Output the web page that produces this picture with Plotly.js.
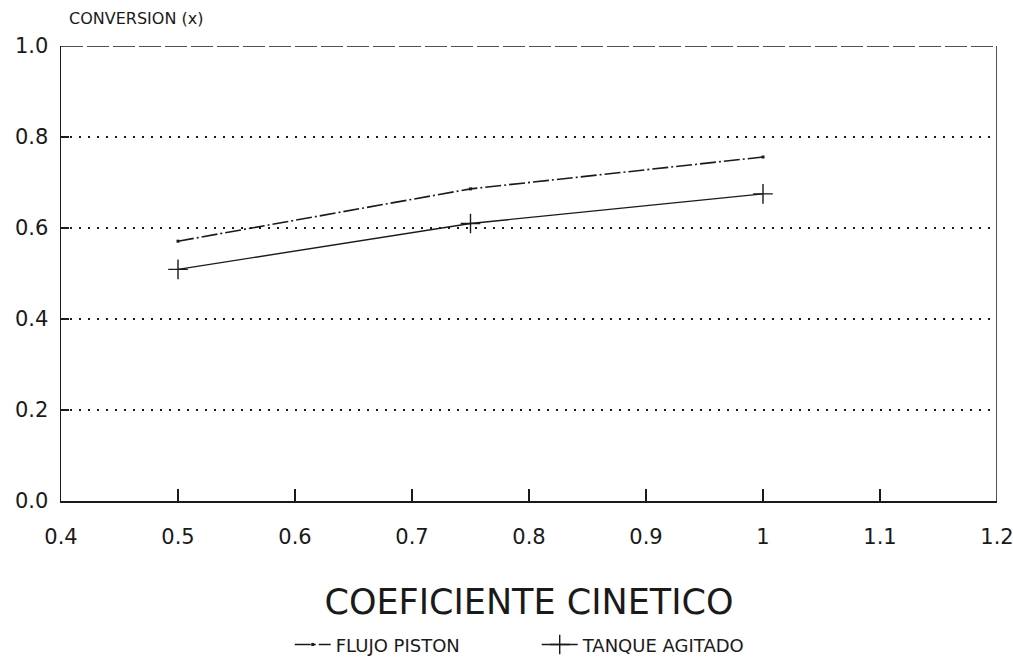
<!DOCTYPE html>
<html>
<head>
<meta charset="utf-8">
<script src="https://cdn.plot.ly/plotly-3.0.1.min.js"></script>
<style>html,body{margin:0;padding:0;background:#fff;}#chart{width:1013px;height:658px;}</style>
</head>
<body>
<div id="chart"></div>
<script>
const coefCinetico = [0.5, 0.75, 1.0];
const flujoPiston = [0.571, 0.686, 0.756];
const tanqueAgitado = [0.509, 0.610, 0.675];
const xTicks = [0.4, 0.5, 0.6, 0.7, 0.8, 0.9, 1.0, 1.1, 1.2];
const yTicks = [0.0, 0.2, 0.4, 0.6, 0.8, 1.0];

const FONT = 'DejaVu Sans, Liberation Sans, sans-serif';
const INK = '#1a1a1a';

const traces = [
  {
    x: coefCinetico, y: flujoPiston, name: 'FLUJO PISTON',
    mode: 'lines+markers', type: 'scatter',
    line: {color: INK, width: 1.6, dash: '16px,3px,2px,3px'},
    marker: {symbol: 'square', size: 3, color: INK}
  },
  {
    x: coefCinetico, y: tanqueAgitado, name: 'TANQUE AGITADO',
    mode: 'lines+markers', type: 'scatter',
    line: {color: INK, width: 1.4},
    marker: {symbol: 'cross-thin', size: 14, line: {color: INK, width: 1.4}}
  }
];

const layout = {
  width: 1013, height: 658,
  paper_bgcolor: '#fff', plot_bgcolor: '#fff',
  margin: {l: 61, r: 16, t: 46, b: 157},
  font: {family: FONT, color: INK, size: 16},
  showlegend: true,
  legend: {orientation: 'h', xref: 'container', yref: 'container',
           x: 0.286, xanchor: 'left', y: 0.02, yanchor: 'middle',
           font: {size: 18, color: INK}, itemwidth: 36,
           entrywidth: 196, entrywidthmode: 'pixels'},
  xaxis: {
    range: [0.4, 1.2], tickvals: xTicks, ticktext: xTicks.map(v => String(Math.round(v*10)/10)),
    ticks: 'inside', ticklen: 12, tickwidth: 1.2, tickcolor: INK,
    showline: true, linecolor: INK, linewidth: 1.5,
    showgrid: false, zeroline: false,
    ticklabelstandoff: 16, ticklabeloverflow: 'allow',
    tickfont: {size: 21, color: INK},
    title: {text: 'COEFICIENTE CINETICO', font: {size: 35, color: INK}, standoff: 42}
  },
  yaxis: {
    range: [0, 1.0], tickvals: yTicks, tickformat: '.1f',
    ticks: 'inside', ticklen: 8, tickwidth: 1.2, tickcolor: INK,
    showline: true, linecolor: INK, linewidth: 1.5,
    showgrid: true, gridcolor: INK, gridwidth: 1.3, griddash: '2px,7px',
    zeroline: false,
    ticklabelstandoff: 7,
    tickfont: {size: 21, color: INK}
  },
  shapes: [
    {type: 'line', xref: 'x', yref: 'y', x0: 0.4, x1: 1.2, y0: 1.0, y1: 1.0,
     line: {color: INK, width: 1.5, dash: '22px,4px'}},
    {type: 'line', xref: 'x', yref: 'y', x0: 1.2, x1: 1.2, y0: 0, y1: 1.0,
     line: {color: INK, width: 1.5}}
  ],
  annotations: [
    {text: 'CONVERSION (x)', xref: 'paper', yref: 'paper', x: 0.006, y: 1.0, yshift: 28,
     xanchor: 'left', yanchor: 'middle', showarrow: false, font: {size: 16, color: INK}}
  ]
};

Plotly.newPlot('chart', traces, layout, {displayModeBar: false, staticPlot: true});
</script>
</body>
</html>
